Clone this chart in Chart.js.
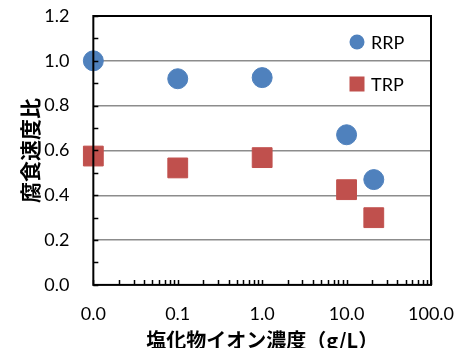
<!DOCTYPE html>
<html><head><meta charset="utf-8">
<script src="https://cdn.jsdelivr.net/npm/chart.js@4/dist/chart.umd.min.js"></script>
<style>html,body{margin:0;padding:0;background:#fff;}#wrap{width:455px;height:348px;}</style>
</head><body><div id="wrap"><canvas id="c" width="455" height="348"></canvas></div>
<script>
const concentrations = [0.01, 0.1, 1, 10, 21];
const rrpValues = [1.0, 0.92, 0.925, 0.67, 0.47];
const trpValues = [0.575, 0.522, 0.568, 0.425, 0.30];
const seriesNames = ['RRP', 'TRP'];
const xTickValues = [0.01, 0.1, 1, 10, 100];
const yTitle = '腐食速度比';
const xTitle = '塩化物イオン濃度（g/L）';

const tickFont = {family: "Lato, 'Open Sans', sans-serif", size: 18};
const Y_PAD = 24, X_PAD = 18;

const innerTicks = {
  id: 'innerTicks',
  afterDraw(chart) {
    const ctx = chart.ctx, a = chart.chartArea;
    const xs = chart.scales.x, ys = chart.scales.y;
    ctx.save();
    ctx.strokeStyle = '#000'; ctx.lineWidth = 1.5;
    ctx.beginPath();
    for (let v = 0; v <= 1.2001; v += 0.1) {
      const p = Math.round(ys.getPixelForValue(v)) + 0.5;
      ctx.moveTo(a.left, p); ctx.lineTo(a.left + 5, p);
    }
    for (let e = -2; e < 2; e++) {
      for (let m = 1; m <= 10; m++) {
        const p = Math.round(xs.getPixelForValue(m * Math.pow(10, e))) + 0.5;
        ctx.moveTo(p, a.bottom); ctx.lineTo(p, a.bottom - 5);
      }
    }
    ctx.stroke();
    ctx.lineWidth = 2;
    ctx.strokeRect(a.left, a.top, a.right - a.left, a.bottom - a.top);
    // legend
    const ds = chart.data.datasets;
    ctx.font = "18px Lato, 'Open Sans', sans-serif";
    ctx.textBaseline = 'middle';
    ds.forEach((d, i) => {
      const cy = a.top + 26 + i * 42;
      const cx = a.right - 74;
      ctx.fillStyle = d.backgroundColor;
      if (d.pointStyle === 'rect') {
        ctx.fillRect(cx - 7.5, cy - 7.5, 15, 15);
      } else {
        ctx.beginPath(); ctx.arc(cx, cy, 7.5, 0, Math.PI * 2); ctx.fill();
      }
      ctx.fillStyle = '#000';
      ctx.fillText(d.label, cx + 14, cy + 1);
    });
    ctx.restore();
  }
};

function zeroPad(s) { s.paddingTop = 0; s.paddingBottom = 0; s.paddingLeft = 0; s.paddingRight = 0; }

new Chart(document.getElementById('c'), {
  type: 'scatter',
  data: {
    datasets: [
      {label: seriesNames[0], data: concentrations.map((x, i) => ({x, y: rrpValues[i]})),
       backgroundColor: '#4F81BD', borderColor: '#4F81BD', pointStyle: 'circle', pointRadius: 10, pointHoverRadius: 10, clip: false},
      {label: seriesNames[1], data: concentrations.map((x, i) => ({x, y: trpValues[i]})),
       backgroundColor: '#C0504D', borderColor: '#C0504D', pointStyle: 'rect', pointRadius: 14, pointHoverRadius: 14, clip: false}
    ]
  },
  options: {
    responsive: false, animation: false,
    layout: {autoPadding: false, padding: {left: 17, right: 24, top: 16, bottom: -4}},
    plugins: {legend: {display: false}, tooltip: {enabled: false}},
    scales: {
      x: {
        type: 'logarithmic', min: 0.01, max: 100,
        afterBuildTicks(s) { s.ticks = xTickValues.map(v => ({value: v})); },
        afterFit(s) { s.height -= (X_PAD - 3.5); zeroPad(s); },
        ticks: {color: '#000', font: tickFont, padding: X_PAD, maxRotation: 0, autoSkip: false,
          callback: (v) => Number(v).toFixed(1)},
        grid: {display: false, drawTicks: false},
        border: {display: false},
        title: {display: true, text: xTitle, color: '#000', padding: {top: 0, bottom: 0},
          font: {family: "'Noto Sans CJK JP', sans-serif", size: 20, weight: 'bold'}}
      },
      y: {
        min: 0, max: 1.2,
        afterFit(s) { s.width -= Y_PAD; zeroPad(s); },
        ticks: {stepSize: 0.2, color: '#000', font: tickFont, padding: Y_PAD,
          callback: (v) => Number(v).toFixed(1)},
        grid: {color: (c) => (c.tick.value > 0.001 && c.tick.value < 1.19) ? '#8c8c8c' : 'rgba(0,0,0,0)', lineWidth: 1.5, drawTicks: false},
        border: {display: false},
        title: {display: true, text: yTitle, color: '#000', padding: {top: 0, bottom: 2},
          font: {family: "'Noto Sans CJK JP', sans-serif", size: 21, weight: 'bold'}}
      }
    }
  },
  plugins: [innerTicks]
});
</script></body></html>
